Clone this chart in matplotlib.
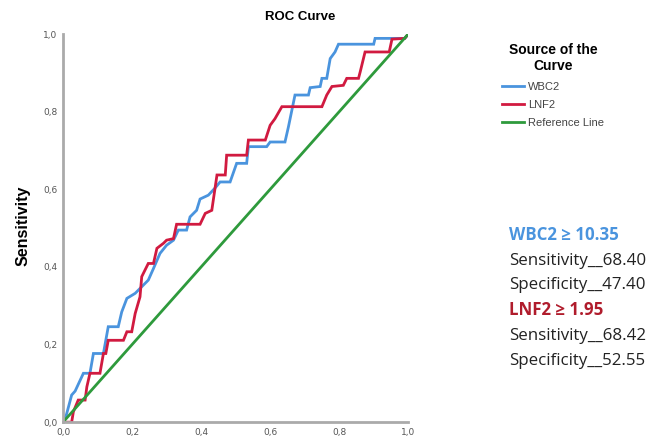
import numpy as np
import matplotlib.pyplot as plt

# ROC vertices (1 - specificity, sensitivity)
wbc2_fpr = [0.0, 0.01, 0.025, 0.035, 0.059, 0.078, 0.088, 0.117, 0.131, 0.16, 0.17, 0.185,
            0.209, 0.247, 0.262, 0.281, 0.30, 0.32, 0.334, 0.358, 0.368, 0.387, 0.397,
            0.421, 0.44, 0.455, 0.484, 0.503, 0.532, 0.537, 0.59, 0.6, 0.643, 0.653,
            0.672, 0.711, 0.716, 0.745, 0.75, 0.764, 0.774, 0.788, 0.798, 0.9, 0.904,
            0.99, 1.0]
wbc2_tpr = [0.0, 0.02, 0.07, 0.08, 0.126, 0.126, 0.177, 0.177, 0.246, 0.246, 0.284, 0.319,
            0.332, 0.366, 0.396, 0.435, 0.456, 0.469, 0.495, 0.495, 0.529, 0.546, 0.575,
            0.585, 0.603, 0.619, 0.619, 0.667, 0.667, 0.71, 0.71, 0.722, 0.722, 0.761,
            0.843, 0.843, 0.862, 0.865, 0.886, 0.886, 0.937, 0.954, 0.974, 0.974, 0.989,
            0.989, 1.0]

lnf2_fpr = [0.0, 0.025, 0.03, 0.044, 0.064, 0.069, 0.078, 0.107, 0.117, 0.124, 0.131, 0.175,
            0.185, 0.199, 0.209, 0.223, 0.228, 0.247, 0.262, 0.272, 0.291, 0.30, 0.32,
            0.329, 0.397, 0.412, 0.431, 0.446, 0.47, 0.474, 0.532, 0.537, 0.586, 0.6,
            0.614, 0.634, 0.75, 0.764, 0.779, 0.812, 0.822, 0.856, 0.861, 0.875, 0.945,
            0.953, 0.99, 1.0]
lnf2_tpr = [0.0, 0.0, 0.027, 0.057, 0.057, 0.091, 0.126, 0.126, 0.177, 0.177, 0.211, 0.211,
            0.233, 0.233, 0.28, 0.323, 0.375, 0.409, 0.409, 0.448, 0.461, 0.469, 0.473,
            0.51, 0.51, 0.538, 0.546, 0.637, 0.637, 0.688, 0.688, 0.727, 0.727, 0.765,
            0.782, 0.813, 0.813, 0.843, 0.865, 0.868, 0.886, 0.886, 0.903, 0.954, 0.954,
            0.987, 0.989, 1.0]

ref_x = [0.0, 1.0]
ref_y = [0.0, 1.0]

ticks = [0.0, 0.2, 0.4, 0.6, 0.8, 1.0]
tick_labels = ['0,0', '0,2', '0,4', '0,6', '0,8', '1,0']

blue = '#4a94de'
red = '#d11a40'
green = '#2e9a3c'
sans = 'Liberation Sans'

fig = plt.figure(figsize=(6.6, 4.43), dpi=100)
ax = fig.add_axes([0.0955, 0.047, 0.523, 0.876])

ax.plot(wbc2_fpr, wbc2_tpr, color=blue, lw=2, label='WBC2', solid_joinstyle='miter')
ax.plot(lnf2_fpr, lnf2_tpr, color=red, lw=2, label='LNF2', solid_joinstyle='miter')
ax.plot(ref_x, ref_y, color=green, lw=2, label='Reference Line')

ax.set_xlim(0, 1)
ax.set_ylim(0, 1)
ax.set_xticks(ticks)
ax.set_xticklabels(tick_labels)
ax.set_yticks(ticks)
ax.set_yticklabels(tick_labels)
ax.tick_params(length=0, labelsize=6.5, labelcolor='#555555', pad=4)
for s in ['top', 'right']:
    ax.spines[s].set_visible(False)
for s in ['left', 'bottom']:
    ax.spines[s].set_color('#aaaaaa')
    ax.spines[s].set_linewidth(2)

fig.text(23 / 660, 1 - 226 / 443, 'Sensitivity', rotation=90, ha='center', va='center',
         fontsize=11.5, fontweight='bold', family=sans)
fig.text(300 / 660, 1 - 17 / 443, 'ROC Curve', ha='center', va='center',
         fontsize=9.5, fontweight='bold', family=sans)

leg = fig.legend(loc='upper center', bbox_to_anchor=(553 / 660, 1 - 33 / 443),
                 title='Source of the\nCurve', frameon=False,
                 prop={'family': sans, 'size': 8}, alignment='center',
                 handlelength=2.0, handletextpad=0.35, labelspacing=0.75)
leg.get_title().set_fontweight('bold')
leg.get_title().set_fontsize(10)
leg.get_title().set_family(sans)
leg.get_title().set_multialignment('center')
for t in leg.get_texts():
    t.set_color('#444444')

# cut-off notes on the right
notes = [('WBC2 \u2265 10.35', blue),
         ('Sensitivity__68.40', '#222222'),
         ('Specificity__47.40', '#222222'),
         ('LNF2 \u2265 1.95', '#b01c2c'),
         ('Sensitivity__68.42', '#222222'),
         ('Specificity__52.55', '#222222')]
ys = [235, 261, 285, 310, 336, 361]
for (txt, col), y in zip(notes, ys):
    fig.text(509 / 660, 1 - y / 443, txt, ha='left', va='center', fontsize=12.2,
             color=col, family='Open Sans',
             fontweight='bold' if col != '#222222' else 'normal')

fig.savefig('out.png', dpi=100)
